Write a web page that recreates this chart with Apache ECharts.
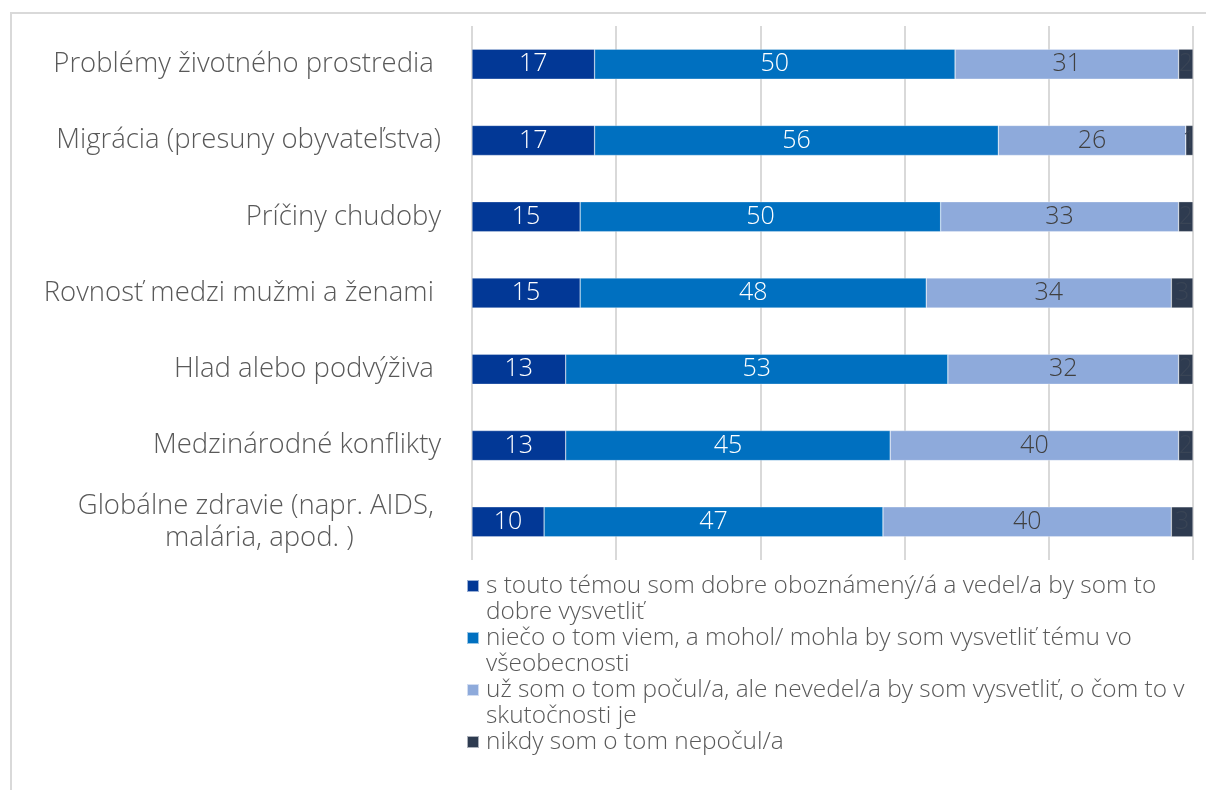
<!DOCTYPE html>
<html>
<head>
<meta charset="utf-8">
<script src="https://cdn.jsdelivr.net/npm/echarts@6/dist/echarts.min.js"></script>
<style>
  html, body { margin: 0; padding: 0; background: #fff; overflow: hidden; }
  #frame { position: absolute; left: 10px; top: 12px; width: 1400px; height: 1000px; border: 2px solid #d9d9d9; }
  #chart { position: absolute; left: 0; top: 0; width: 1206px; height: 790px; }
</style>
</head>
<body>
<div id="frame"></div>
<div id="chart"></div>
<script>
var topics = [
  'Problémy životného prostredia ',
  'Migrácia (presuny obyvateľstva)',
  'Príčiny chudoby',
  'Rovnosť medzi mužmi a ženami ',
  'Hlad alebo podvýživa ',
  'Medzinárodné konflikty',
  'Globálne zdravie (napr. AIDS, \nmalária, apod. )'
];
var seriesNames = [
  's touto témou som dobre oboznámený/á a vedel/a by som to dobre vysvetliť',
  'niečo o tom viem, a mohol/ mohla by som vysvetliť tému vo všeobecnosti',
  'už som o tom počul/a, ale nevedel/a by som vysvetliť, o čom to v skutočnosti je',
  'nikdy som o tom nepočul/a'
];
var legendText = [
  's touto témou som dobre oboznámený/á a vedel/a by som to\ndobre vysvetliť',
  'niečo o tom viem, a mohol/ mohla by som vysvetliť tému vo\nvšeobecnosti',
  'už som o tom počul/a, ale nevedel/a by som vysvetliť, o čom to v\nskutočnosti je',
  'nikdy som o tom nepočul/a\n '
];
var wellKnown = [17, 17, 15, 15, 13, 13, 10];
var somewhat  = [50, 56, 50, 48, 53, 45, 47];
var heardOf   = [31, 26, 33, 34, 32, 40, 40];
var never     = [2, 1, 2, 3, 2, 2, 3];

var colors = ['#023896', '#0070c0', '#8eaadb', '#2e3b50'];
var labelColors = ['#ffffff', '#ffffff', '#404040', '#3a4556'];
var values = [wellKnown, somewhat, heardOf, never];
var font = '"Open Sans", Lato, sans-serif';

// square sits at the top of a 12x38 icon so it lines up with the first text line
var iconTop = 'path://M0,0L12,0L12,12L0,12Z M0,38L12,38';

var chart = echarts.init(document.getElementById('chart'));
var option = {
  animation: false,
  color: colors,
  grid: { left: 472, right: 13, top: 26, bottom: 230, containLabel: false },
  legend: {
    orient: 'vertical',
    left: 461,
    top: 568,
    itemWidth: 12,
    itemHeight: 38,
    itemGap: 0,
    icon: iconTop,
    data: seriesNames,
    formatter: function (name) { return legendText[seriesNames.indexOf(name)]; },
    textStyle: { color: '#595959', fontSize: 24.4, fontFamily: font, fontWeight: 300, lineHeight: 26, padding: [0, 0, 0, 2] }
  },
  xAxis: {
    type: 'value',
    min: 0,
    max: 100,
    interval: 20,
    axisLabel: { show: false },
    axisLine: { show: false },
    axisTick: { show: false },
    splitLine: { lineStyle: { color: '#d9d9d9', width: 2 } }
  },
  yAxis: {
    type: 'category',
    inverse: true,
    data: topics,
    axisLine: { show: false },
    axisTick: { show: false },
    axisLabel: {
      margin: 31,
      formatter: function (v) {
        return v.split('\n').map(function (s) { return '{c|' + s + '}'; }).join('\n');
      },
      rich: {
        c: { color: '#595959', fontSize: 27.5, fontFamily: font, fontWeight: 300, lineHeight: 32, align: 'center' }
      }
    }
  },
  series: seriesNames.map(function (n, i) {
    return {
      name: n,
      type: 'bar',
      stack: 'total',
      barWidth: 30,
      data: values[i],
      itemStyle: { borderColor: 'rgba(255,255,255,0.6)', borderWidth: 0.5 },
      label: {
        show: true,
        position: 'inside',
        color: labelColors[i],
        fontSize: 25,
        fontFamily: font,
        fontWeight: 300
      }
    };
  })
};
chart.setOption(option);
</script>
</body>
</html>
